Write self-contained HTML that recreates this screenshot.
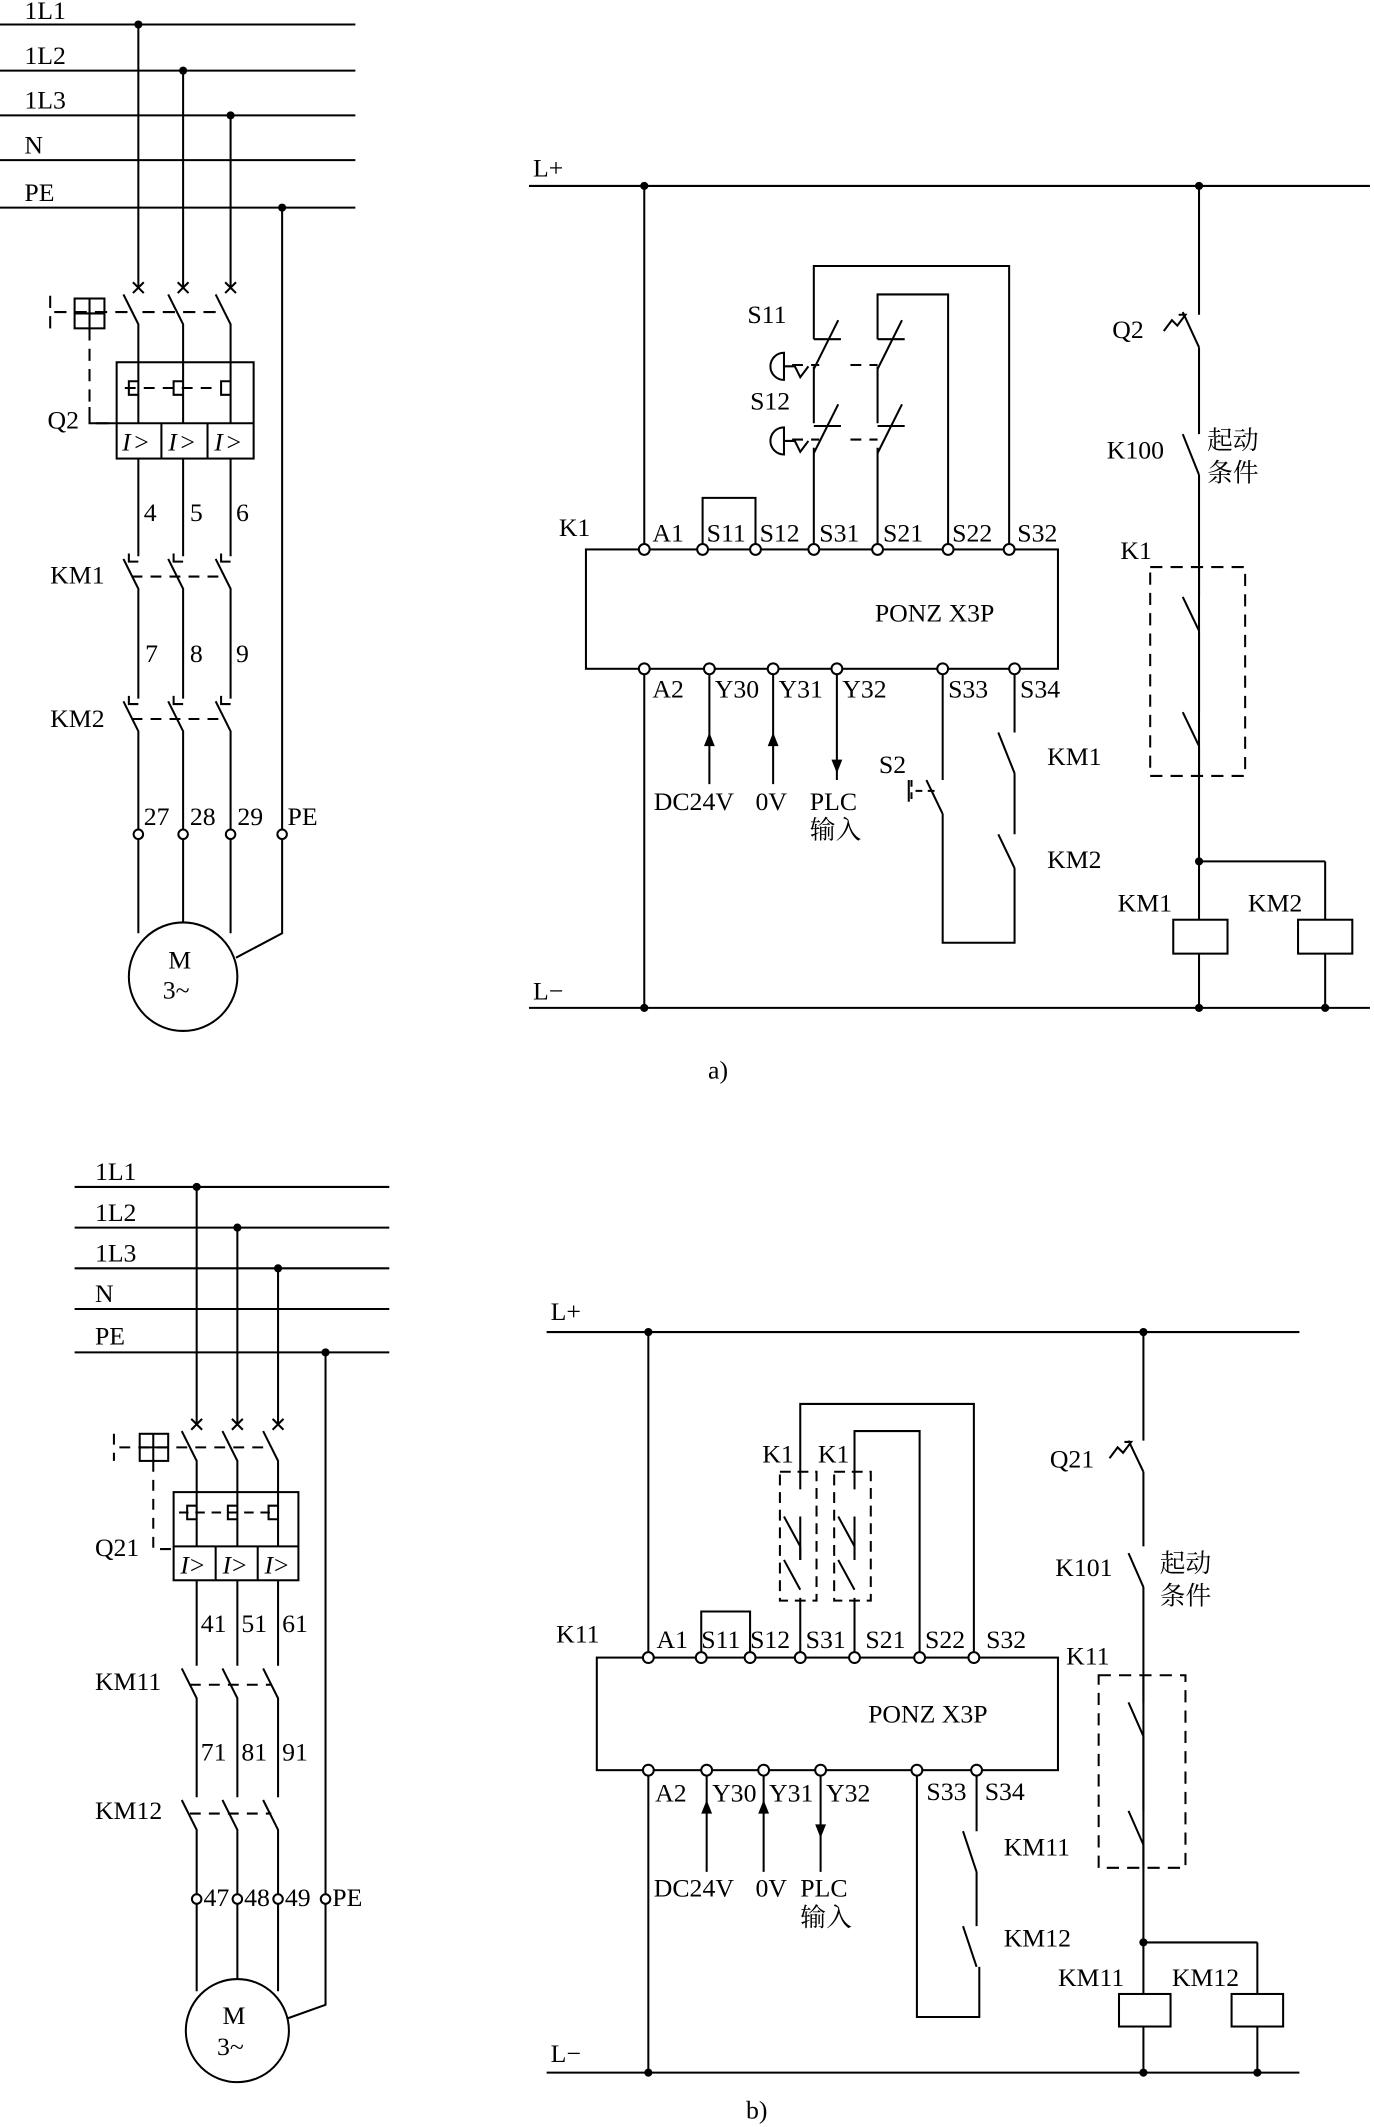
<!DOCTYPE html>
<html><head><meta charset="utf-8"><style>html,body{margin:0;padding:0;background:#fff}svg{display:block}text{font-family:"Liberation Serif","Noto Serif CJK SC",serif;font-size:19px;fill:#000}</style></head>
<body>
<svg width="1374" height="2127" viewBox="0 0 1013 1568" xmlns="http://www.w3.org/2000/svg">
<g stroke="#000" stroke-width="1.5" fill="none">
<path d="M0 18H262M0 52H262M0 85H262M0 118H262M0 153H262"/>
<path d="M102 18V212M135 52V212M170 85V212M208 153V612"/>
<path d="M98 208l8 8M106 208l-8 8M131 208l8 8M139 208l-8 8M166 208l8 8M174 208l-8 8"/>
<path d="M91 217l11 22V312M124 217l11 22V312M159 217l11 22V312"/>
<path d="M37 218v24M40 230H100M105 230H165" stroke-dasharray="9 6"/>
<rect x="55" y="220" width="22" height="22"/><path d="M66 220v22M55 231h22"/>
<path d="M66 242V312H86" stroke-dasharray="9 6"/>
<path d="M66 300V312H86"/>
<rect x="86" y="267" width="101" height="71"/><path d="M86 312H187M119 312V338M153 312V338"/>
<path d="M102 281h-7v10h7M135 281h-7v10h7M170 281h-7v10h7"/>
<path d="M92 286H160" stroke-dasharray="8 6"/>
<path d="M102 338V410M135 338V410M170 338V410"/>
<path d="M91 412l11 22V515M124 412l11 22V515M159 412l11 22V515"/>
<path d="M97 425H165" stroke-dasharray="8 6"/>
<path d="M91 517l11 22V612M124 517l11 22V612M159 517l11 22V612"/>
<path d="M97 530H165" stroke-dasharray="8 6"/>
<path d="M95 408v6h7M128 408v6h7M163 408v6h7M95 513v6h7M128 513v6h7M163 513v6h7"/>
<circle cx="102" cy="615" r="3.5"/><circle cx="135" cy="615" r="3.5"/><circle cx="170" cy="615" r="3.5"/><circle cx="208" cy="615" r="3.5"/>
<path d="M102 619V688M135 619V680M170 619V688M208 619V688L174 706"/>
<circle cx="135" cy="720" r="40"/>
<path d="M390 137H1010M390 743H1010"/>
<path d="M475 137V401M475 497V743M884 137V232M884 256V320M884 350V678M884 703V743M977 635V678M977 703V743M884 635H977"/>
<rect x="432" y="405" width="348" height="88"/>
<path d="M518 401V367H557V401"/>
<path d="M600 401V330M600 312V270M600 250V196H744V401"/>
<path d="M647 401V330M647 312V270M647 250V217H699V401"/>
<path d="M600 250h20M647 250h20M600 334l18 -36M647 334l18 -36M600 272l18 -36M647 272l18 -36"/>
<path d="M600 314h20M647 314h20"/>
<path d="M584 269h20M627 269h20M584 324h20M627 324h20" stroke-dasharray="8 6"/>
<path d="M578 260a10 10 0 0 0 0 20zM578 270h8l4 8 6-8M578 315a10 10 0 0 0 0 20zM578 325h8l4 8 6-8"/>
<path d="M872 230l12 26M858 244l6-8 4 4 6-8h-5"/>
<path d="M872 320l12 30"/>
<rect x="848" y="418" width="70" height="154" stroke-dasharray="9 6"/>
<path d="M884 418V440M872 440l12 25M884 465V525M872 525l12 25M884 550V572"/>
<rect x="865" y="678" width="40" height="25"/><rect x="957" y="678" width="40" height="25"/>
<path d="M523 497V578M570 497V578M617 497V575"/>
<path d="M695 497V575M695 600V695H748V640M748 497V540M748 570V615M683 575l12 25M736 540l12 30M736 615l12 25"/>
<path d="M672 575v16M675 583h15" stroke-dasharray="5 4"/>
<path d="M670 575v16"/>
</g>
<g fill="#000">
<path d="M523 540l-4 10h8zM570 540l-4 10h8zM617 570l-4 -10h8z"/>
<circle cx="102" cy="18" r="3"/><circle cx="135" cy="52" r="3"/><circle cx="170" cy="85" r="3"/><circle cx="208" cy="153" r="3"/>
<circle cx="475" cy="137" r="3"/><circle cx="884" cy="137" r="3"/><circle cx="475" cy="743" r="3"/><circle cx="884" cy="743" r="3"/><circle cx="977" cy="743" r="3"/><circle cx="884" cy="635" r="3"/>
</g>
<g fill="#fff" stroke="#000" stroke-width="1.5">
<circle cx="475" cy="405" r="4"/><circle cx="518" cy="405" r="4"/><circle cx="557" cy="405" r="4"/><circle cx="600" cy="405" r="4"/><circle cx="647" cy="405" r="4"/><circle cx="699" cy="405" r="4"/><circle cx="744" cy="405" r="4"/>
<circle cx="475" cy="493" r="4"/><circle cx="523" cy="493" r="4"/><circle cx="570" cy="493" r="4"/><circle cx="617" cy="493" r="4"/><circle cx="695" cy="493" r="4"/><circle cx="748" cy="493" r="4"/>
</g>
<g>
<text x="18" y="14">1L1</text><text x="18" y="47">1L2</text><text x="18" y="80">1L3</text><text x="18" y="113">N</text><text x="18" y="148">PE</text>
<text x="35" y="316">Q2</text>
<text x="106" y="384">4</text><text x="140" y="384">5</text><text x="174" y="384">6</text>
<text x="37" y="430">KM1</text><text x="107" y="488">7</text><text x="140" y="488">8</text><text x="174" y="488">9</text>
<text x="37" y="536">KM2</text>
<text x="106" y="608">27</text><text x="140" y="608">28</text><text x="175" y="608">29</text><text x="212" y="608">PE</text>
<text x="124" y="714">M</text><text x="120" y="736">3~</text>
<text x="393" y="130">L+</text><text x="393" y="737">L−</text>
<text x="412" y="395">K1</text>
<text x="481" y="399">A1</text><text x="521" y="399">S11</text><text x="560" y="399">S12</text><text x="604" y="399">S31</text><text x="651" y="399">S21</text><text x="702" y="399">S22</text><text x="750" y="399">S32</text>
<text x="645" y="458">PONZ X3P</text>
<text x="481" y="514">A2</text><text x="527" y="514">Y30</text><text x="574" y="514">Y31</text><text x="621" y="514">Y32</text><text x="699" y="514">S33</text><text x="752" y="514">S34</text>
<text x="551" y="238">S11</text><text x="553" y="302">S12</text>
<text x="482" y="597">DC24V</text><text x="557" y="597">0V</text><text x="597" y="597">PLC</text><text x="597" y="618">输入</text>
<text x="648" y="570">S2</text><text x="772" y="564">KM1</text><text x="772" y="640">KM2</text>
<text x="820" y="249">Q2</text><text x="816" y="338">K100</text><text x="890" y="331">起动</text><text x="890" y="355">条件</text>
<text x="826" y="412">K1</text><text x="824" y="672">KM1</text><text x="920" y="672">KM2</text>
<text x="522" y="795">a)</text>
<text x="90" y="332" style="font-style:italic">I</text><text x="124" y="332" style="font-style:italic">I</text><text x="158" y="332" style="font-style:italic">I</text>
<text x="99" y="332">&gt;</text><text x="133" y="332">&gt;</text><text x="167" y="332">&gt;</text>
</g>

<g stroke="#000" stroke-width="1.5" fill="none">
<path d="M55 875H287M55 905H287M55 935H287M55 965H287M55 997H287"/>
<path d="M145 875V1050M175 905V1050M205 935V1050M240 997V1397"/>
<path d="M141 1046l8 8M149 1046l-8 8M171 1046l8 8M179 1046l-8 8M201 1046l8 8M209 1046l-8 8"/>
<path d="M134 1055l11 22V1140M164 1055l11 22V1140M194 1055l11 22V1140"/>
<path d="M84 1057v20M88 1067H200" stroke-dasharray="8 6"/>
<rect x="103" y="1057" width="21" height="20"/><path d="M113 1057v20M103 1067h21"/>
<path d="M113 1077V1142H128" stroke-dasharray="8 6"/>
<rect x="128" y="1100" width="92" height="65"/><path d="M128 1140H220M159 1140V1165M190 1140V1165"/>
<path d="M145 1110h-7v10h7M175 1110h-7v10h7M205 1110h-7v10h7"/>
<path d="M132 1115H200" stroke-dasharray="7 5"/>
<path d="M145 1165V1228M175 1165V1228M205 1165V1228"/>
<path d="M134 1230l11 22V1325M164 1230l11 22V1325M194 1230l11 22V1325"/>
<path d="M140 1242H200M140 1337H200" stroke-dasharray="8 6"/>
<path d="M134 1327l11 22V1397M164 1327l11 22V1397M194 1327l11 22V1397"/>
<circle cx="145" cy="1400" r="3.5"/><circle cx="175" cy="1400" r="3.5"/><circle cx="205" cy="1400" r="3.5"/><circle cx="240" cy="1400" r="3.5"/>
<path d="M145 1404V1468M175 1404V1459M205 1404V1468M240 1404V1478L212 1488"/>
<circle cx="175" cy="1497" r="38"/>
<path d="M403 982H958M403 1528H958"/>
<path d="M478 982V1218M478 1309V1528M843 982V1062M843 1085V1140M843 1170V1470M843 1494V1528M927 1432V1470M927 1494V1528M843 1432H927"/>
<rect x="440" y="1222" width="340" height="83"/>
<path d="M517 1218V1188H553V1218"/>
<path d="M590 1218V1178M590 1150V1118M590 1098V1035H718V1218"/>
<path d="M630 1218V1178M630 1150V1118M630 1098V1055H678V1218"/>
<path d="M578 1118l12 22M590 1140v10M618 1118l12 22M630 1140v10M578 1150l12 22M618 1150l12 22"/>
<rect x="575" y="1085" width="27" height="95" stroke-dasharray="8 5"/>
<rect x="615" y="1085" width="27" height="95" stroke-dasharray="8 5"/>
<path d="M832 1062l11 23M818 1075l6-8 4 4 6-8h-5M832 1145l11 25"/>
<rect x="810" y="1235" width="64" height="142" stroke-dasharray="9 6"/>
<path d="M843 1235V1255M832 1255l11 25M843 1280V1335M832 1335l11 25M843 1360V1377"/>
<rect x="825" y="1470" width="38" height="24"/><rect x="908" y="1470" width="38" height="24"/>
<path d="M521 1309V1380M563 1309V1380M605 1309V1380"/>
<path d="M676 1309V1487H722V1450M720 1309V1350M720 1380V1420M710 1350l10 30M710 1420l10 30"/>
</g>
<g fill="#000">
<circle cx="145" cy="875" r="3"/><circle cx="175" cy="905" r="3"/><circle cx="205" cy="935" r="3"/><circle cx="240" cy="997" r="3"/>
<circle cx="478" cy="982" r="3"/><circle cx="843" cy="982" r="3"/><circle cx="478" cy="1528" r="3"/><circle cx="843" cy="1528" r="3"/><circle cx="927" cy="1528" r="3"/><circle cx="843" cy="1432" r="3"/>
<path d="M521 1327l-4 10h8zM563 1327l-4 10h8zM605 1355l-4 -10h8z"/>
</g>
<g fill="#fff" stroke="#000" stroke-width="1.5">
<circle cx="478" cy="1222" r="4"/><circle cx="517" cy="1222" r="4"/><circle cx="553" cy="1222" r="4"/><circle cx="590" cy="1222" r="4"/><circle cx="630" cy="1222" r="4"/><circle cx="678" cy="1222" r="4"/><circle cx="718" cy="1222" r="4"/>
<circle cx="478" cy="1305" r="4"/><circle cx="521" cy="1305" r="4"/><circle cx="563" cy="1305" r="4"/><circle cx="605" cy="1305" r="4"/><circle cx="676" cy="1305" r="4"/><circle cx="720" cy="1305" r="4"/>
</g>
<g>
<text x="70" y="870">1L1</text><text x="70" y="900">1L2</text><text x="70" y="930">1L3</text><text x="70" y="960">N</text><text x="70" y="991">PE</text>
<text x="70" y="1147">Q21</text>
<text x="133" y="1160" style="font-style:italic">I</text><text x="140" y="1160">&gt;</text>
<text x="164" y="1160" style="font-style:italic">I</text><text x="171" y="1160">&gt;</text>
<text x="195" y="1160" style="font-style:italic">I</text><text x="202" y="1160">&gt;</text>
<text x="148" y="1203">41</text><text x="178" y="1203">51</text><text x="208" y="1203">61</text>
<text x="70" y="1246">KM11</text><text x="148" y="1298">71</text><text x="178" y="1298">81</text><text x="208" y="1298">91</text>
<text x="70" y="1341">KM12</text>
<text x="150" y="1405">47</text><text x="180" y="1405">48</text><text x="210" y="1405">49</text><text x="245" y="1405">PE</text>
<text x="164" y="1492">M</text><text x="160" y="1515">3~</text>
<text x="406" y="973">L+</text><text x="406" y="1520">L−</text>
<text x="410" y="1211">K11</text>
<text x="484" y="1215">A1</text><text x="517" y="1215">S11</text><text x="553" y="1215">S12</text><text x="594" y="1215">S31</text><text x="638" y="1215">S21</text><text x="682" y="1215">S22</text><text x="727" y="1215">S32</text>
<text x="640" y="1270">PONZ X3P</text>
<text x="483" y="1328">A2</text><text x="525" y="1328">Y30</text><text x="567" y="1328">Y31</text><text x="609" y="1328">Y32</text><text x="683" y="1327">S33</text><text x="726" y="1327">S34</text>
<text x="562" y="1078">K1</text><text x="603" y="1078">K1</text>
<text x="482" y="1398">DC24V</text><text x="557" y="1398">0V</text><text x="590" y="1398">PLC</text><text x="590" y="1420">输入</text>
<text x="740" y="1368">KM11</text><text x="740" y="1435">KM12</text>
<text x="774" y="1082">Q21</text><text x="778" y="1162">K101</text><text x="855" y="1159">起动</text><text x="855" y="1183">条件</text>
<text x="786" y="1227">K11</text><text x="780" y="1464">KM11</text><text x="864" y="1464">KM12</text>
<text x="550" y="1562">b)</text>
</g>
</svg>
</body></html>
